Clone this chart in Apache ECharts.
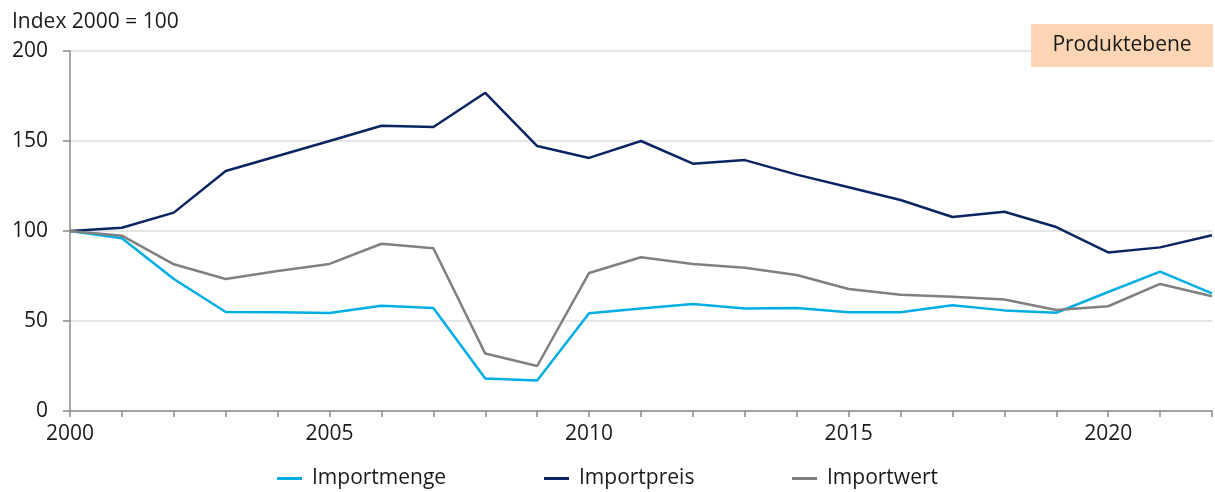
<!DOCTYPE html>
<html>
<head>
<meta charset="utf-8">
<script src="https://cdn.jsdelivr.net/npm/echarts@6/dist/echarts.min.js"></script>
<style>
  html, body { margin: 0; padding: 0; background: #ffffff; }
  #chart { width: 1215px; height: 492px; }
</style>
</head>
<body>
<div id="chart"></div>
<script>
// Jahre (Index 2000 = 100)
const years = ['2000','2001','2002','2003','2004','2005','2006','2007','2008','2009','2010',
  '2011','2012','2013','2014','2015','2016','2017','2018','2019','2020','2021','2022'];

const importmenge = [100, 96.0, 73.3, 55.0, 54.8, 54.4, 58.5, 57.2, 18.0, 16.9, 54.3,
  56.9, 59.4, 57.0, 57.2, 54.8, 54.9, 58.7, 55.9, 54.6, 66.1, 77.4, 65.4];

const importpreis = [100, 101.8, 110.2, 133.3, 141.7, 150.0, 158.5, 157.8, 176.8, 147.2, 140.6,
  150.0, 137.4, 139.4, 131.3, 124.3, 117.2, 107.8, 110.7, 102.2, 88.1, 90.9, 97.6];

const importwert = [100, 97.4, 81.5, 73.3, 77.8, 81.7, 92.9, 90.4, 31.9, 25.0, 76.7,
  85.4, 81.7, 79.6, 75.6, 67.8, 64.6, 63.5, 61.9, 56.1, 58.2, 70.6, 63.7];

const yTicks = { min: 0, max: 200, interval: 50 };

const FONT = '"Open Sans", "Noto Sans", sans-serif';
const FS = 21;
const colors = { menge: '#00aee4', preis: '#0b2563', wert: '#808080' };

const chart = echarts.init(document.getElementById('chart'), null, { renderer: 'canvas' });

function legendAt(left, name) {
  return {
    left: left, top: 468, padding: 0,
    data: [name],
    icon: 'rect', itemWidth: 25, itemHeight: 3, itemGap: 0,
    textStyle: { fontFamily: FONT, fontSize: FS, color: '#1a1a1a', padding: [0, 0, 0, 5] },
    selectedMode: false
  };
}

function line(name, data, color) {
  return {
    name: name, type: 'line', data: data,
    symbol: 'none', smooth: false,
    lineStyle: { color: color, width: 2.5 },
    itemStyle: { color: color },
    emphasis: { disabled: true }
  };
}

chart.setOption({
  animation: false,
  backgroundColor: '#ffffff',
  grid: { left: 70, right: 3, top: 51, bottom: 81, containLabel: false },
  legend: [
    legendAt(277, 'Importmenge'),
    legendAt(544, 'Importpreis'),
    legendAt(792, 'Importwert')
  ],
  xAxis: {
    type: 'category',
    data: years,
    boundaryGap: false,
    axisLine: { show: true, lineStyle: { color: '#8c8c8c', width: 1.5 } },
    axisTick: { show: true, interval: 0, length: 6, lineStyle: { color: '#8c8c8c', width: 1.5 } },
    axisLabel: { interval: 4, margin: 13, fontFamily: FONT, fontSize: FS, color: '#1a1a1a' },
    splitLine: { show: false }
  },
  yAxis: {
    type: 'value',
    min: yTicks.min, max: yTicks.max, interval: yTicks.interval,
    axisLine: { show: true, lineStyle: { color: '#8c8c8c', width: 1.5 } },
    axisTick: { show: true, length: 7, lineStyle: { color: '#8c8c8c', width: 1.5 } },
    axisLabel: { margin: 22, fontFamily: FONT, fontSize: FS, color: '#1a1a1a' },
    splitLine: { show: true, lineStyle: { color: '#dcdcdc', width: 1.5 } }
  },
  graphic: [
    {
      type: 'text', left: 12, top: 12,
      style: { text: 'Index 2000 = 100', font: FS + 'px ' + FONT, fill: '#1a1a1a' }
    },
    {
      type: 'rect', left: 1031, top: 24, z: 10,
      shape: { width: 182, height: 43 },
      style: { fill: '#fcd5b5' }
    },
    {
      type: 'text', z: 11,
      x: 1122, y: 45.5,
      style: { text: 'Produktebene', font: FS + 'px ' + FONT, fill: '#1a1a1a', align: 'center', verticalAlign: 'middle' }
    }
  ],
  series: [
    line('Importmenge', importmenge, colors.menge),
    line('Importpreis', importpreis, colors.preis),
    line('Importwert', importwert, colors.wert)
  ]
});
</script>
</body>
</html>
